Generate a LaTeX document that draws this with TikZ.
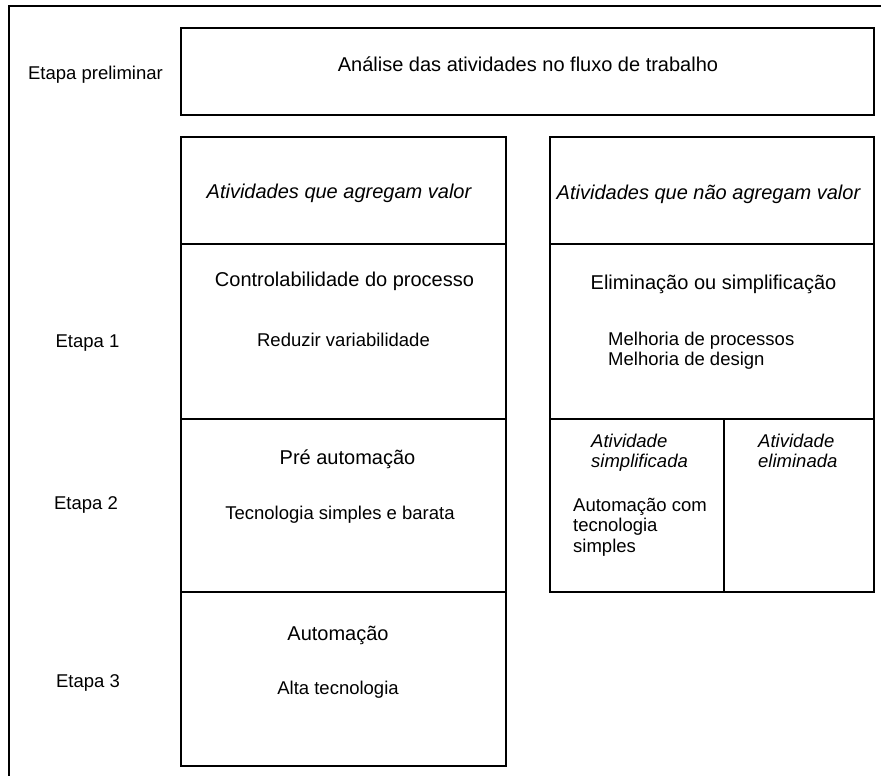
\documentclass[tikz,border=0pt]{standalone}
\usepackage{fontspec}
\setmainfont{Liberation Sans}
\tikzset{
    cell/.style={draw, line width=2.3pt, inner sep=0pt, anchor=north west},
    frame/.style={line width=2pt},
    txt/.style={inner sep=0pt, anchor=base, font=\fontsize{18.5}{20.5}\selectfont},
    txtL/.style={txt, anchor=base west, align=left},
    head/.style={inner sep=0pt, anchor=base, font=\fontsize{20}{24}\selectfont},
    headI/.style={head, font=\fontsize{20}{24}\selectfont\itshape},
}
\begin{document}
\begin{tikzpicture}[x=1pt, y=-1pt]
    \useasboundingbox (0,0) rectangle (881,776);

    % Outer frame (cut off at right and bottom)
    \draw[frame] (9,790) -- (9,6) -- (895,6);

    % Preliminary stage
    \node[cell, minimum width=693pt, minimum height=87pt] (prelim) at (180,27) {};
    \node[head] (analise) at (528,71) {Análise das atividades no fluxo de trabalho};
    \node[txt] (etapaP) at (95.5,80) {Etapa preliminar};

    % Left column: value adding
    \node[cell, minimum width=325pt, minimum height=107pt] (agrega) at (180,136) {};
    \node[cell, minimum width=325pt, minimum height=175pt] (ctrl) at (180,243) {};
    \node[cell, minimum width=325pt, minimum height=173pt] (preauto) at (180,418) {};
    \node[cell, minimum width=325pt, minimum height=174pt] (auto) at (180,591) {};

    \node[headI] (agregaT) at (339,198.5) {Atividades que agregam valor};
    \node[head] (ctrlT) at (344.5,286) {Controlabilidade do processo};
    \node[txt] (ctrlB) at (343.5,346) {Reduzir variabilidade};
    \node[head] (preautoT) at (347.5,464) {Pré automação};
    \node[txt] (preautoB) at (340,519) {Tecnologia simples e barata};
    \node[head] (autoT) at (338,640) {Automação};
    \node[txt] (autoB) at (338,694) {Alta tecnologia};

    % Right column: non value adding
    \node[cell, minimum width=324pt, minimum height=107pt] (naoagrega) at (549,136) {};
    \node[cell, minimum width=324pt, minimum height=175pt] (elimsimp) at (549,243) {};
    \node[cell, minimum width=174pt, minimum height=173pt] (simpl) at (549,418) {};
    \node[cell, minimum width=150pt, minimum height=173pt] (elim) at (723,418) {};

    \node[headI] (naoagregaT) at (708.5,199) {Atividades que não agregam valor};
    \node[head] (elimsimpT) at (713.5,289) {Eliminação ou simplificação};
    % multi-line nodes: base is the last line
    \node[txtL] (elimsimpB) at (608,365.5) {Melhoria de processos\\Melhoria de design};
    \node[txtL, font=\fontsize{18.5}{20}\selectfont\itshape] (simplT) at (591,467) {Atividade\\simplificada};
    \node[txtL] (simplB) at (573,552) {Automação com\\tecnologia\\simples};
    \node[txtL, font=\fontsize{18.5}{20}\selectfont\itshape] (elimT) at (758,467) {Atividade\\eliminada};

    % Stage labels
    \node[txt] (etapa1) at (87.5,347) {Etapa 1};
    \node[txt] (etapa2) at (86,509) {Etapa 2};
    \node[txt] (etapa3) at (88,687) {Etapa 3};
\end{tikzpicture}
\end{document}
